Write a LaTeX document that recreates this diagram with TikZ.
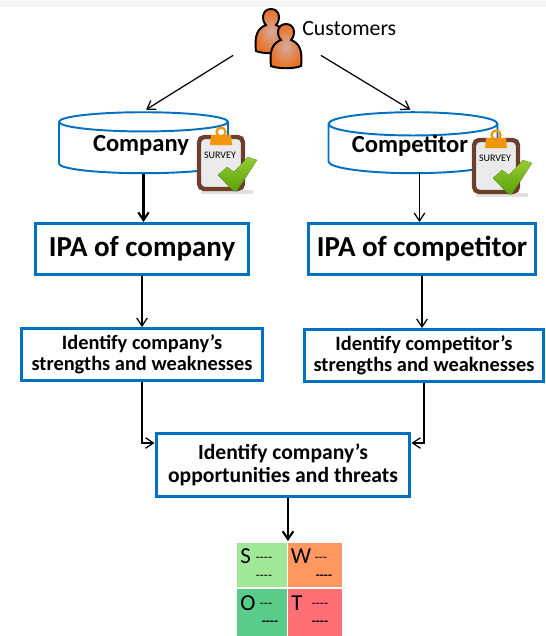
\documentclass[tikz,border=0pt]{standalone}
\usepackage{fontspec}
\setmainfont{Carlito}
\usetikzlibrary{shapes.geometric,arrows.meta}
\newcommand{\fsz}[2]{\fontsize{#1}{#2}\selectfont}
\tikzset{
  x=0.02cm,y=-0.02cm,
  bluebox/.style={draw=boxblue,line width=1.7pt,align=center,inner sep=0pt},
  dbase/.style={cylinder,shape border rotate=90,aspect=0.2,draw=boxblue,line width=1.1pt,minimum width=3.38cm,minimum height=1.22cm,inner sep=0pt,font=\bfseries\fsz{14}{14}},
  dbtext/.style={inner sep=0pt,font=\bfseries\fsz{14}{14}},
  link/.style={-{Straight Barb[length=4.5pt,width=6pt]},line width=0.7pt},
  thicklink/.style={link,line width=1.15pt},
  swotcell/.style={inner sep=0pt},
  swottext/.style={inner sep=0pt,font=\fsz{13}{13}},
  dashtext/.style={inner sep=0pt,font=\fsz{7.5}{7.5}},
  person/.pic={
    \draw[line width=1.1pt,inner color=iconglow,outer color=iconorange] (-15,20) .. controls (-17,4) and (-13,-3) .. (-5,-6) .. controls (-10,-11) and (-9,-22) .. (0,-22) .. controls (9,-22) and (10,-11) .. (5,-6) .. controls (13,-3) and (17,4) .. (15,20) .. controls (8,23) and (-8,23) .. (-15,20) -- cycle;
  },
  surveyicon/.pic={
    \fill[black!12] (-20,27) rectangle (32,31);
    \draw[fill=boardgrey,draw=boardbrown,line width=2.5pt,rounded corners=3pt] (-22,-26) rectangle (22,26);
    \draw[draw=clipyellow,line width=1.3pt] (0,-31) circle (4.5);
    \fill[clipyellow] (-10,-28) -- (10,-28) -- (11,-18) -- (-11,-18) -- cycle;
    \node[font=\fsz{5.7}{5.7},inner sep=0pt] (surveytext) at (-1,-8) {SURVEY};
    \fill[top color=checklight,bottom color=checkgreen] (-3,12) -- (6,4) -- (13,9) -- (27,-6) -- (36,-3) -- (16,28) -- (12,28) -- cycle;
  }
}
\definecolor{boxblue}{RGB}{0,112,192}
\definecolor{iconorange}{RGB}{232,112,30}
\definecolor{iconglow}{RGB}{214,170,160}
\definecolor{boardgrey}{RGB}{234,234,234}
\definecolor{boardbrown}{RGB}{110,62,45}
\definecolor{clipyellow}{RGB}{240,150,10}
\definecolor{checkgreen}{RGB}{90,160,10}
\definecolor{checklight}{RGB}{150,205,50}
\definecolor{swotS}{RGB}{160,232,152}
\definecolor{swotW}{RGB}{255,152,96}
\definecolor{swotO}{RGB}{88,204,136}
\definecolor{swotT}{RGB}{255,112,118}
\begin{document}
\begin{tikzpicture}
\useasboundingbox (0,0) rectangle (546,636);
\fill[black!4] (0,0) rectangle (546,7);
\node[minimum width=1.74cm,minimum height=1cm,inner sep=0pt] (people) at (277,30) {};
\pic at (271,31) {person};
\pic at (286,46) {person};
\node[anchor=west,inner sep=0pt,font=\fsz{12.4}{12.4}] (customers) at (302,29) {Customers};
\node[dbase] (company) at (143.5,148) {\phantom{Company}};
\node[dbase] (competitor) at (413,149) {\phantom{Competitor}};
\node[dbtext] (companytext) at (141,145) {Company};
\node[dbtext] (competitortext) at (410,146) {Competitor};
\pic at (221,163) {surveyicon};
\pic at (496,166) {surveyicon};
\node[bluebox,minimum width=4.26cm,minimum height=1.02cm,font=\bfseries\fsz{16.5}{16.5}] (ipacompany) at (142,249) {IPA of company};
\node[bluebox,minimum width=4.54cm,minimum height=1.02cm,font=\bfseries\fsz{16.5}{16.5}] (ipacompetitor) at (422,249) {IPA of competitor};
\node[bluebox,minimum width=4.82cm,minimum height=1.04cm,font=\bfseries\fsz{11.6}{12}] (swcompany) at (142,354.5) {Identify company’s\\strengths and weaknesses};
\node[bluebox,minimum width=4.8cm,minimum height=1.04cm,font=\bfseries\fsz{11.6}{12}] (swcompetitor) at (424,355.5) {Identify competitor’s\\strengths and weaknesses};
\node[bluebox,minimum width=5.08cm,minimum height=1.26cm,font=\bfseries\fsz{12.3}{13}] (opthreats) at (283,465) {Identify company’s\\opportunities and threats};
\node[swotcell,fill=swotS,anchor=south east,minimum width=1cm,minimum height=0.88cm] (cellS) at (287,587) {};
\node[swotcell,fill=swotW,anchor=south west,minimum width=1.08cm,minimum height=0.88cm] (cellW) at (288,587) {};
\node[swotcell,fill=swotO,anchor=north east,minimum width=1cm,minimum height=0.94cm] (cellO) at (287,589) {};
\node[swotcell,fill=swotT,anchor=north west,minimum width=1.08cm,minimum height=0.94cm] (cellT) at (288,589) {};
\node[swottext] (letterS) at (245.5,556) {S};
\node[swottext] (letterW) at (301,556) {W};
\node[swottext] (letterO) at (248,603) {O};
\node[swottext] (letterT) at (297,603) {T};
\node[dashtext] (dashSa) at (264,559) {-{}-{}-{}-};
\node[dashtext] (dashSb) at (264,577) {-{}-{}-{}-};
\node[dashtext] (dashWa) at (321,559) {-{}-{}-};
\node[dashtext] (dashWb) at (324,577) {\bfseries -{}-{}-{}-};
\node[dashtext] (dashOa) at (266,605) {-{}-{}-};
\node[dashtext] (dashOb) at (270,623) {\bfseries -{}-{}-{}-};
\node[dashtext] (dashTa) at (320,605) {-{}-{}-{}-};
\node[dashtext] (dashTb) at (320,623) {\bfseries -{}-{}-{}-};
\coordinate (swotmid) at (288,541);
\coordinate (dbright) at (419.5,172);
\coordinate (opleft) at ([yshift=0.44cm]opthreats.west);
\coordinate (opright) at ([yshift=0.44cm]opthreats.east);
\draw[link,shorten >=1.7pt] (people.south west) -- (company.north);
\draw[link,shorten >=1.7pt] (people.south east) -- (competitor.north);
\draw[thicklink] (company.south) -- (company.south |- ipacompany.north);
\draw[link] (dbright) -- (dbright |- ipacompetitor.north);
\draw[link] (ipacompany.south) -- (swcompany.north);
\draw[link] (ipacompetitor.south) -- (ipacompetitor.south |- swcompetitor.north);
\draw[link] (swcompany.south) |- (opleft);
\draw[link] (swcompetitor.south) |- (opright);
\draw[thicklink] (opthreats.south -| swotmid) -- (swotmid);
\end{tikzpicture}
\end{document}
